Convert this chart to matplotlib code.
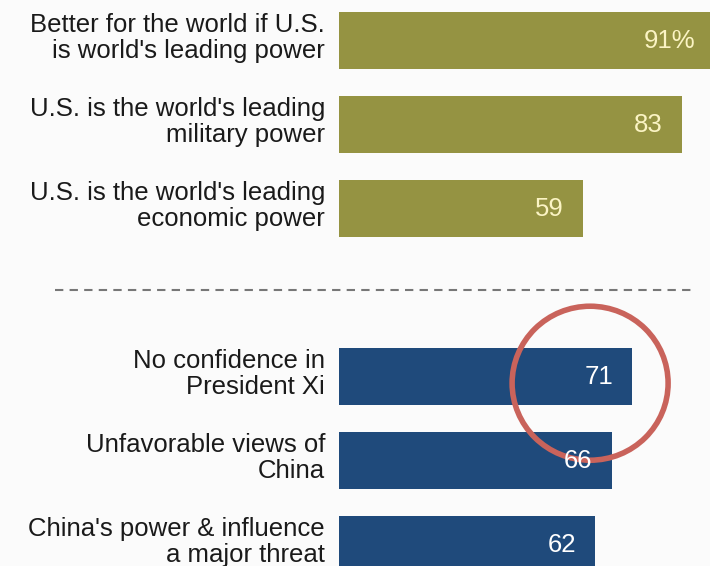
import matplotlib.pyplot as plt
from matplotlib.patches import Ellipse
from matplotlib import font_manager

# Data
us_labels = ["Better for the world if U.S.\nis world's leading power",
             "U.S. is the world's leading\nmilitary power",
             "U.S. is the world's leading\neconomic power"]
us_values = [91, 83, 59]
china_labels = ["No confidence in\nPresident Xi",
                "Unfavorable views of\nChina",
                "China's power & influence\na major threat"]
china_values = [71, 66, 62]

olive = '#959342'
navy = '#1f4a7b'
bg = '#fbfbfb'

names = {f.name for f in font_manager.fontManager.ttflist}
font = 'Liberation Sans Narrow' if 'Liberation Sans Narrow' in names else 'Liberation Sans'
plt.rcParams['font.family'] = [font, 'DejaVu Sans']

fig = plt.figure(figsize=(7.1, 5.66), dpi=100, facecolor=bg)
ax = fig.add_axes([0, 0, 1, 1], facecolor=bg)

# pixel scale: 4.13 px per percentage point, bars start at x=339px
ppu = 4.13
ax.set_xlim(-339 / ppu, (710 - 339) / ppu)
ax.set_ylim((566 - 40.5) / 84, -40.5 / 84)
ax.axis('off')

us_pos = [0, 1, 2]
china_pos = [4, 5, 6]

ax.barh(us_pos, us_values, height=0.68, color=olive)
ax.barh(china_pos, china_values, height=0.68, color=navy)

for pos, lab, val, tc in ([(p, l, v, '#fbf4c4') for p, l, v in zip(us_pos, us_labels, us_values)]
                          + [(p, l, v, 'white') for p, l, v in zip(china_pos, china_labels, china_values)]):
    ax.text(-14 / ppu, pos - 0.03, lab, ha='right', va='center', fontsize=18.5,
            color='#1a1a1a', linespacing=1.08, multialignment='right')
    txt = f"{val}%" if pos == 0 else str(val)
    ax.text(val - 4.6, pos, txt, ha='right', va='center', fontsize=18.5,
            color=tc)

# dashed separator
ax.plot([(55 - 339) / ppu, (695 - 339) / ppu], [2.97, 2.97], ls=(0, (4, 3)),
        color='#777777', lw=1.5)

# red highlight circle around the Xi value
ax.add_patch(Ellipse((china_values[0] - 10.2, china_pos[0] + 0.08), 156 / ppu, 154 / 84,
                     fill=False, ec='#c9635b', lw=4))

fig.savefig('out.png', dpi=100, facecolor=bg)
